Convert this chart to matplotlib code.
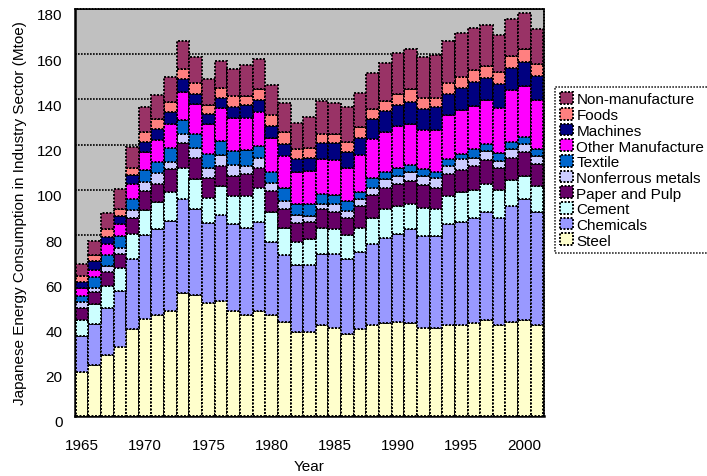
import numpy as np
import matplotlib
matplotlib.use("Agg")
import matplotlib.pyplot as plt
from matplotlib.transforms import ScaledTranslation

plt.rcParams["font.family"] = ["Liberation Sans", "DejaVu Sans"]

# =========================
# DATA (Mtoe, per sector)
# =========================
years = list(range(1965, 2002))

steel = [19.5, 22.4, 26.8, 30.5, 38.3, 42.8, 44.5, 46.4, 54.5, 53.4,
         50.1, 50.9, 46.4, 44.5, 46.4, 44.5, 41.7, 37.3, 37.3, 40.1,
         39.1, 36.4, 38.3, 40.1, 41.0, 41.7, 41.0, 39.1, 39.1, 40.1,
         40.1, 41.0, 42.5, 40.1, 41.7, 42.5, 40.1]
chemicals = [15.9, 18.4, 21.1, 24.6, 31.0, 37.1, 38.1, 39.8, 41.3, 38.0,
             35.1, 37.9, 38.7, 38.8, 39.6, 32.6, 29.4, 29.3, 29.5, 31.7,
             32.7, 32.9, 34.4, 36.1, 37.9, 38.9, 41.6, 40.5, 40.5, 45.0,
             45.9, 46.7, 47.9, 47.6, 51.2, 53.3, 50.3]
cement = [6.9, 8.9, 9.6, 10.5, 11.0, 11.2, 12.2, 13.0, 14.0, 13.3,
          11.4, 12.9, 12.2, 14.0, 15.0, 13.3, 12.2, 10.5, 11.3, 11.5,
          10.8, 10.6, 10.6, 11.5, 12.5, 12.3, 11.3, 12.5, 11.8, 12.2,
          13.1, 12.2, 12.4, 12.2, 11.5, 10.3, 11.3]
paper = [5.6, 5.1, 6.2, 5.9, 7.1, 8.3, 8.0, 9.9, 10.8, 9.6,
         8.8, 8.9, 8.8, 9.6, 8.8, 9.1, 8.1, 8.1, 7.7, 8.1,
         7.8, 7.8, 9.6, 9.9, 9.6, 9.9, 10.0, 9.9, 9.6, 9.9,
         9.7, 10.7, 10.4, 9.9, 9.9, 10.7, 9.9]
nonferrous = [2.5, 1.8, 2.6, 3.0, 3.7, 4.1, 4.5, 3.4, 4.3, 4.4,
              4.4, 4.7, 4.9, 3.7, 4.5, 3.4, 3.7, 3.6, 2.7, 2.5,
              3.5, 3.0, 2.9, 3.4, 3.7, 3.3, 4.0, 4.1, 4.4, 3.4,
              4.7, 3.7, 4.0, 3.0, 3.7, 3.6, 3.4]
textile = [2.7, 4.9, 4.8, 5.1, 5.0, 5.2, 5.0, 6.2, 6.0, 6.2,
           6.2, 6.3, 6.2, 7.0, 5.1, 5.0, 5.9, 4.8, 5.1, 4.4,
           3.7, 4.4, 3.3, 4.4, 3.2, 3.7, 3.0, 3.0, 2.7, 3.2,
           2.5, 3.7, 2.9, 3.4, 3.2, 3.0, 3.0]
other = [3.7, 3.1, 5.1, 5.2, 6.7, 8.1, 9.8, 10.6, 12.5, 13.2,
         13.3, 14.8, 14.7, 14.3, 15.1, 15.2, 14.0, 14.3, 14.8, 15.2,
         15.6, 14.7, 16.2, 17.0, 17.9, 18.5, 18.4, 17.4, 18.4, 19.2,
         19.2, 19.1, 19.7, 20.2, 23.0, 22.6, 21.8]
machines = [2.5, 4.0, 3.0, 3.7, 3.6, 4.5, 4.7, 5.2, 5.5, 4.5,
            4.1, 4.4, 4.8, 5.5, 5.1, 5.2, 5.4, 5.6, 5.9, 7.1,
            7.4, 7.1, 7.8, 8.8, 9.1, 9.1, 9.6, 9.1, 10.3, 9.6,
            10.0, 10.6, 9.8, 10.6, 9.9, 10.7, 10.6]
foods = [2.6, 2.5, 3.4, 2.9, 3.4, 4.5, 4.4, 4.5, 4.4, 4.5,
         4.0, 4.4, 4.8, 4.1, 4.9, 4.7, 5.2, 4.4, 4.4, 4.0,
         4.0, 4.4, 4.7, 4.4, 4.4, 4.9, 5.6, 4.9, 4.0, 4.8,
         4.9, 5.3, 5.2, 5.1, 5.1, 5.5, 5.1]
non_manufacture = [5.5, 6.2, 7.3, 8.9, 9.2, 10.9, 10.8, 10.9, 12.6, 11.7,
                   11.8, 11.8, 11.8, 13.7, 13.2, 13.3, 12.7, 11.8, 13.7, 14.7,
                   13.7, 15.5, 14.9, 16.3, 17.0, 18.4, 18.0, 18.3, 18.9, 18.5,
                   19.1, 18.8, 18.1, 16.4, 16.5, 15.9, 15.5]

sectors = [
    ("Steel", steel, "#FFFFCC"),
    ("Chemicals", chemicals, "#9999FF"),
    ("Cement", cement, "#CCFFFF"),
    ("Paper and Pulp", paper, "#660066"),
    ("Nonferrous metals", nonferrous, "#CCCCFF"),
    ("Textile", textile, "#0066CC"),
    ("Other Manufacture", other, "#FF00FF"),
    ("Machines", machines, "#000080"),
    ("Foods", foods, "#FF8080"),
    ("Non-manufacture", non_manufacture, "#993366"),
]

dotted = (0, (1, 0.8))

# =========================
# PLOT
# =========================
fig = plt.figure(figsize=(7.07, 4.77), dpi=100)
ax = fig.add_axes([75 / 707, 60 / 477, 469 / 707, 407 / 477])
ax.set_facecolor("#C0C0C0")

bottom = np.zeros(len(years))
handles = []
for name, vals, color in sectors:
    b = ax.bar(years, vals, width=1.0, bottom=bottom, color=color,
               edgecolor="black", linewidth=1.4, linestyle=dotted,
               label=name, zorder=3)
    bottom += np.array(vals)
    handles.append(b)

ax.set_xlim(1964.45, 2001.55)
ax.set_ylim(0, 180)
ax.set_yticks(range(0, 181, 20))
ax.set_xticks(range(1965, 2001, 5))
ax.yaxis.grid(True, color="black", linestyle=dotted, linewidth=1.2, zorder=0)
ax.set_axisbelow(True)
ax.tick_params(axis="both", length=0, labelsize=11)
ax.tick_params(axis="x", pad=16)
ax.tick_params(axis="y", pad=9)

# y tick labels sit a little below their gridlines in the original
shift = ScaledTranslation(0, -0.05, fig.dpi_scale_trans)
for lab in ax.get_yticklabels():
    lab.set_transform(lab.get_transform() + shift)

for side in ["top", "right"]:
    ax.spines[side].set_linestyle(dotted)
    ax.spines[side].set_linewidth(1.2)
for side in ["left", "bottom"]:
    ax.spines[side].set_linewidth(1.8)

ax.set_xlabel("Year", fontsize=11, labelpad=5)
ax.set_ylabel("Japanese Energy Consumption in Industry Sector (Mtoe)",
              fontsize=11, labelpad=7)

leg = fig.legend(handles[::-1], [s[0] for s in sectors][::-1],
                 loc="upper left", bbox_to_anchor=(555 / 707, 1 - 88 / 477),
                 fontsize=11, frameon=True, fancybox=False,
                 handlelength=0.8, handleheight=0.8, handletextpad=0.25,
                 labelspacing=0.1, borderpad=0.35, borderaxespad=0)
leg.get_frame().set_edgecolor("black")
leg.get_frame().set_linestyle(dotted)
leg.get_frame().set_linewidth(1.2)

fig.savefig("out.png", dpi=100)
